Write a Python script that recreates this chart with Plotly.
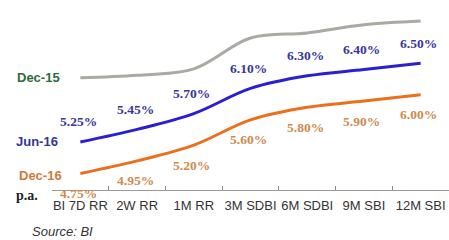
import plotly.graph_objects as go

categories = ["BI 7D RR", "2W RR", "1M RR", "3M SDBI", "6M SDBI", "9M SBI", "12M SBI"]
dec15 = [6.27, 6.31, 6.41, 6.90, 6.98, 7.11, 7.17]
jun16 = [5.25, 5.45, 5.70, 6.10, 6.30, 6.40, 6.50]
dec16 = [4.75, 4.95, 5.20, 5.60, 5.80, 5.90, 6.00]
jun16_labels = ["5.25%", "5.45%", "5.70%", "6.10%", "6.30%", "6.40%", "6.50%"]
dec16_labels = ["4.75%", "4.95%", "5.20%", "5.60%", "5.80%", "5.90%", "6.00%"]

fig = go.Figure()
fig.add_trace(go.Scatter(x=categories, y=dec15, mode="lines",
                         line=dict(color="#a9aaa3", width=3, shape="spline", smoothing=1.0)))
fig.add_trace(go.Scatter(x=categories, y=jun16, mode="lines",
                         line=dict(color="#2b1fd2", width=3, shape="spline", smoothing=1.0)))
fig.add_trace(go.Scatter(x=categories, y=dec16, mode="lines",
                         line=dict(color="#ec6f1e", width=3, shape="spline", smoothing=1.0)))

lab_font = "Liberation Serif, Times New Roman, serif"
for c, v, t in zip(categories, jun16, jun16_labels):
    fig.add_annotation(x=c, y=v, text="<b>%s</b>" % t, showarrow=False, yshift=20, xshift=-2,
                       font=dict(family=lab_font, size=13.5, color="#36369c"))
for c, v, t in zip(categories, dec16, dec16_labels):
    fig.add_annotation(x=c, y=v, text="<b>%s</b>" % t, showarrow=False, yshift=-20, xshift=-2,
                       font=dict(family=lab_font, size=13.5, color="#d08a4c"))

name_font = "Liberation Sans, Arial, sans-serif"
fig.add_annotation(xref="paper", yref="y", x=-0.093, y=dec15[0], xanchor="left", yanchor="middle",
                   text="<b>Dec-15</b>", showarrow=False,
                   font=dict(family=name_font, size=13, color="#2e6b3c"))
fig.add_annotation(xref="paper", yref="y", x=-0.095, y=jun16[0], xanchor="left", yanchor="middle",
                   text="<b>Jun-16</b>", showarrow=False,
                   font=dict(family=name_font, size=13, color="#35359a"))
fig.add_annotation(xref="paper", yref="y", x=-0.088, y=dec16[0] - 0.03, xanchor="left", yanchor="middle",
                   text="<b>Dec-16</b>", showarrow=False,
                   font=dict(family=name_font, size=13, color="#d07a38"))
fig.add_annotation(xref="paper", yref="paper", x=-0.095, y=-0.033, xanchor="left", yanchor="middle",
                   text="<b>p.a.</b>", showarrow=False,
                   font=dict(family="Liberation Serif, serif", size=14, color="#222222"))
fig.add_annotation(xref="paper", yref="paper", x=-0.056, y=-0.233, xanchor="left", yanchor="middle",
                   text="<i>Source: BI</i>", showarrow=False,
                   font=dict(family=name_font, size=13, color="#333333"))

fig.update_layout(
    width=449, height=240,
    margin=dict(l=52, r=0, t=10, b=50),
    paper_bgcolor="white", plot_bgcolor="white",
    showlegend=False,
    xaxis=dict(type="category", range=[-0.5, 6.5], tickson="boundaries", ticks="inside",
               ticklen=4, tickcolor="#8a8a8a", showline=True, linecolor="#9a9a9a", linewidth=1,
               showgrid=False, zeroline=False, tickangle=0, automargin=False, ticklabelstandoff=3,
               tickfont=dict(family="Liberation Sans, Arial, sans-serif", size=13, color="#333333")),
    yaxis=dict(range=[4.488, 7.345], visible=False, showgrid=False, zeroline=False, automargin=False),
)

fig.write_html("out.html", config={"displayModeBar": False},
               post_script="document.body.style.margin='0';document.body.style.overflow='hidden';")
